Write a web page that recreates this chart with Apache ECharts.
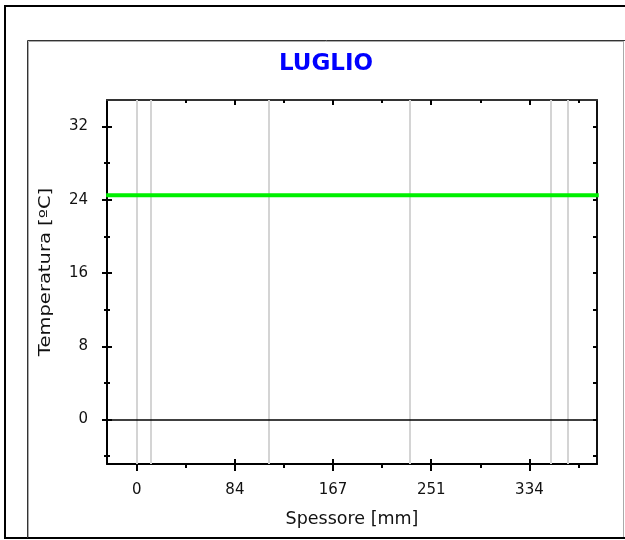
<!DOCTYPE html>
<html>
<head>
<meta charset="utf-8">
<script src="https://cdn.jsdelivr.net/npm/echarts@6/dist/echarts.min.js"></script>
<style>
  html, body { margin: 0; padding: 0; background: #fff; }
  #chart { width: 625px; height: 540px; }
</style>
</head>
<body>
<div id="chart"></div>
<script>
// Wall layer boundaries (mm) and the temperature profile through the wall (°C)
const layerBounds = [0, 12, 112, 232, 352, 367];
const profilePos  = [-26, 0, 12, 112, 232, 352, 367, 393];
const profileTemp = [24.5, 24.5, 24.5, 24.5, 24.5, 24.5, 24.5, 24.5];

// Axis extents and tick positions
const xRange = [-25.3, 391.5];
const yRange = [-4.85, 34.9];
const xMajorTicks = [0, 83.5, 167, 250.5, 334];
const xMinorTicks = [41.75, 125.25, 208.75, 292.25, 375.75];
const yMajorTicks = [0, 8, 16, 24, 32];
const yMinorTicks = [-4, 4, 12, 20, 28];

const titleText = 'LUGLIO';
const xName = 'Spessore [mm]';
const yName = 'Temperatura [ºC]';

const FONT = 'DejaVu Sans';

// Extra axis used only to draw one set of tick marks on a side of the plot
function tickAxis(range, position, values, inside, len, line) {
  return {
    type: 'value',
    position: position,
    min: range[0],
    max: range[1],
    splitLine: { show: false },
    axisLine: line
      ? { show: true, onZero: false, lineStyle: { color: line, width: 2 } }
      : { show: false, onZero: false },
    axisLabel: { show: false },
    axisTick: {
      show: true,
      inside: inside,
      length: len,
      customValues: values,
      lineStyle: { color: '#000', width: 2 }
    }
  };
}

const chart = echarts.init(document.getElementById('chart'), null, { renderer: 'canvas' });

chart.setOption({
  backgroundColor: '#ffffff',
  animation: false,
  title: {
    text: titleText,
    left: 321,
    top: 48,
    textAlign: 'center',
    textStyle: { color: '#0000ff', fontFamily: FONT, fontWeight: 'bold', fontSize: 23 }
  },
  graphic: [
    { type: 'rect', shape: { x: 5, y: 6, width: 640, height: 532 },
      style: { fill: null, stroke: '#000', lineWidth: 2 }, silent: true },
    { type: 'polyline', shape: { points: [[27.5, 538], [27.5, 40.5], [625, 40.5]] },
      style: { fill: null, stroke: '#333', lineWidth: 1 }, silent: true },
    { type: 'polyline', shape: { points: [[28.5, 537], [28.5, 41.5], [623, 41.5]] },
      style: { fill: null, stroke: '#aaa', lineWidth: 1 }, silent: true },
    { type: 'line', shape: { x1: 623.5, y1: 41, x2: 623.5, y2: 537 },
      style: { stroke: '#aaa', lineWidth: 1 }, silent: true },
    { type: 'text', x: 46, y: 272, rotation: Math.PI / 2, scaleX: 1.22,
      style: { text: yName, fill: '#111', font: '16px "' + FONT + '"', align: 'center', verticalAlign: 'middle' },
      silent: true }
  ],
  grid: { left: 107, right: 28, top: 100, bottom: 76, containLabel: false },
  xAxis: [
    {
      type: 'value', position: 'bottom', min: xRange[0], max: xRange[1],
      splitLine: { show: false },
      axisLine: { show: true, onZero: false, lineStyle: { color: '#000', width: 2 } },
      axisTick: { show: true, inside: false, length: 7, customValues: xMajorTicks, lineStyle: { color: '#000', width: 2 } },
      axisLabel: {
        show: true, customValues: xMajorTicks, margin: 19,
        formatter: v => String(Math.round(v)),
        color: '#111', fontFamily: FONT, fontSize: 15
      },
      name: xName, nameLocation: 'middle', nameGap: 46,
      nameTextStyle: { color: '#111', fontFamily: FONT, fontSize: 17.5 }
    },
    tickAxis(xRange, 'bottom', xMajorTicks, true, 5),
    tickAxis(xRange, 'bottom', xMinorTicks, false, 4),
    tickAxis(xRange, 'top', xMajorTicks, true, 5, '#333'),
    tickAxis(xRange, 'top', xMinorTicks, true, 3)
  ],
  yAxis: [
    {
      type: 'value', position: 'left', min: yRange[0], max: yRange[1],
      splitLine: { show: false },
      axisLine: { show: true, onZero: false, lineStyle: { color: '#000', width: 2 } },
      axisTick: { show: true, inside: false, length: 5, customValues: yMajorTicks, lineStyle: { color: '#000', width: 2 } },
      axisLabel: {
        show: true, customValues: yMajorTicks, margin: 19,
        color: '#111', fontFamily: FONT, fontSize: 15
      }
    },
    tickAxis(yRange, 'left', yMajorTicks, true, 5),
    tickAxis(yRange, 'left', yMinorTicks, false, 3),
    tickAxis(yRange, 'left', yMinorTicks, true, 3),
    tickAxis(yRange, 'right', yMajorTicks.concat(yMinorTicks), true, 4, '#111')
  ],
  series: [
    {
      type: 'line',
      xAxisIndex: 0, yAxisIndex: 0,
      data: profilePos.map((x, i) => [x, profileTemp[i]]),
      symbol: 'none',
      clip: true,
      lineStyle: { color: '#00f000', width: 4 },
      z: 5,
      markLine: {
        silent: true,
        symbol: ['none', 'none'],
        label: { show: false },
        lineStyle: { color: '#d4d4d4', width: 2, type: 'solid' },
        data: layerBounds.map(x => ({ xAxis: x }))
      }
    },
    {
      type: 'line',
      xAxisIndex: 0, yAxisIndex: 0,
      data: [],
      markLine: {
        silent: true,
        symbol: ['none', 'none'],
        label: { show: false },
        lineStyle: { color: '#000', width: 1.5, type: 'solid' },
        data: [{ yAxis: 0 }]
      },
      z: 4
    }
  ]
});
</script>
</body>
</html>
